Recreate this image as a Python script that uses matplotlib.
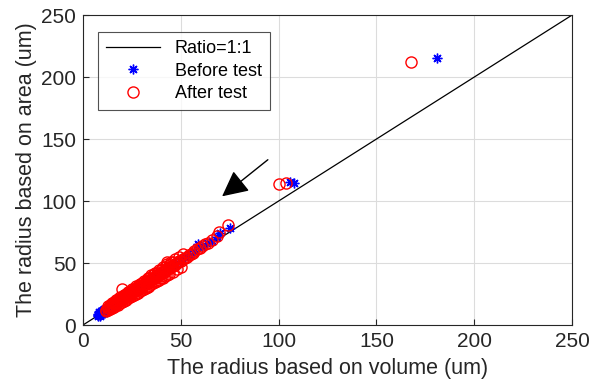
import matplotlib.pyplot as plt
from matplotlib.patches import FancyArrowPatch

plt.rcParams['font.family'] = ['Liberation Sans', 'DejaVu Sans']

# radius from volume (x) vs radius from projected area (y), in um
before_vol = [7.6, 7.9, 8.2, 8.5, 8.8, 9.0, 9.3, 9.6, 9.9, 10.2, 10.5, 10.8,
              11.1, 11.4, 11.8, 12.2, 12.6, 13.0,
              7.5, 8.0, 8.5, 9.0, 9.5, 10.0, 10.5, 11.0, 11.5, 12.0, 12.5,
              14.5, 16.0, 18.0, 20.5,
              23.0, 26.0, 29.0, 32.0, 35.0, 38.0, 41.0, 44.0, 47.0, 49.5,
              52.0, 54.5, 57.0, 59.0, 61.0, 63.5, 66.0, 68.5, 70.0, 75.0,
              106.0, 108.0, 181.0]
before_area = [7.5, 8.3, 8.6, 9.2, 9.4, 9.9, 10.1, 10.6, 10.8, 11.3, 11.4, 12.0,
               12.1, 12.6, 12.9, 13.4, 13.6, 14.2,
               9.0, 10.2, 7.6, 11.0, 8.5, 12.0, 9.6, 13.0, 10.5, 14.0, 11.2,
               15.6, 17.1, 19.2, 21.8,
               24.5, 27.6, 30.6, 33.8, 36.8, 39.9, 43.1, 46.0, 49.3, 51.5,
               54.5, 56.8, 59.4, 65.5, 62.8, 66.0, 68.0, 71.0, 74.0, 78.5,
               115.0, 114.5, 215.0]

after_vol = [12.0, 12.6, 13.2, 13.8, 14.4, 15.0, 15.6, 16.2, 16.8, 17.4,
             18.0, 18.6, 19.2, 19.8, 20.0, 20.4, 21.0, 21.6, 22.2, 22.8,
             23.4, 24.0, 24.6, 25.2, 25.8, 26.4, 27.0, 27.6, 28.2, 28.8,
             29.4, 30.0, 30.6, 31.2, 31.8, 32.4, 33.0, 33.6, 34.2, 34.8,
             35.4, 36.0, 36.6, 37.2, 37.8, 38.4, 39.0, 39.6, 40.2, 40.8,
             41.4, 42.0, 42.5, 43.0, 43.6, 44.2, 44.8, 45.4, 46.0, 46.8,
             47.6, 48.4, 49.2, 50.0, 51.0, 52.0, 53.0, 54.0, 55.0, 56.0,
             57.0, 58.5, 60.0, 61.0, 62.5, 64.0, 66.0, 68.5, 69.5, 74.0,
             # upper edge of the band
             13.0, 15.0, 17.0, 19.0, 21.0, 23.0, 25.0, 27.0, 29.0, 31.0,
             33.0, 35.0, 37.0, 39.0, 41.0, 43.0, 45.0, 47.0, 49.0, 51.0,
             14.0, 16.0, 18.0, 20.0, 22.0, 24.0, 26.0, 28.0, 30.0, 32.0,
             34.0, 36.0, 38.0, 40.0, 42.0, 44.0, 46.0,
             # lower edge of the band
             12.0, 14.0, 16.0, 18.0, 20.0, 22.0, 24.0, 26.0, 28.0, 30.0,
             32.0, 34.0, 36.0, 38.0, 40.0, 42.0, 44.0, 46.0, 48.0, 50.0,
             13.0, 15.0, 17.0, 19.0, 21.0, 23.0, 25.0, 27.0, 29.0, 31.0,
             33.0, 35.0, 37.0, 39.0, 41.0, 43.0,
             100.0, 104.0, 167.5]
after_area = [12.5, 13.8, 13.6, 15.0, 14.9, 16.2, 16.1, 17.5, 17.3, 18.8,
              18.6, 20.0, 19.8, 21.3, 29.0, 21.1, 22.6, 22.3, 23.9, 23.6,
              25.1, 24.8, 26.4, 26.0, 27.6, 27.3, 28.9, 28.6, 30.1, 29.8,
              31.4, 31.0, 32.6, 32.3, 33.9, 33.5, 35.1, 34.8, 36.4, 36.0,
              37.6, 37.3, 38.9, 38.5, 40.1, 39.8, 41.4, 41.0, 42.6, 42.3,
              43.9, 43.5, 45.0, 51.0, 45.3, 46.8, 46.5, 48.0, 47.9, 49.3,
              49.6, 50.8, 51.4, 52.0, 53.3, 54.2, 55.0, 56.4, 57.3, 58.4,
              59.6, 61.0, 62.5, 64.0, 65.6, 66.5, 68.5, 71.5, 75.0, 80.5,
              15.6, 18.1, 20.0, 22.5, 24.4, 26.9, 28.8, 31.3, 33.2, 35.7,
              37.6, 40.1, 42.0, 44.5, 46.4, 48.9, 50.8, 53.0, 54.9, 57.2,
              16.3, 18.4, 20.6, 22.8, 24.9, 27.1, 29.3, 31.4, 33.6, 35.8,
              37.9, 40.1, 42.3, 44.4, 46.6, 48.8, 50.9,
              11.0, 12.7, 14.8, 16.5, 18.6, 20.3, 22.4, 24.1, 26.2, 27.9,
              30.0, 31.7, 33.8, 35.5, 37.6, 39.3, 41.4, 43.1, 45.2, 47.0,
              12.2, 14.1, 15.9, 17.8, 19.7, 21.5, 23.4, 25.3, 27.1, 29.0,
              30.9, 32.7, 34.6, 36.5, 38.3, 40.2,
              113.5, 114.5, 212.0]

ratio_x = [0, 250]
ratio_y = [0, 250]

fig, ax = plt.subplots(figsize=(5.91, 3.86), dpi=100)
fig.subplots_adjust(left=0.1404, right=0.968, bottom=0.158, top=0.961)

ax.plot(ratio_x, ratio_y, color='black', lw=0.9, label='Ratio=1:1')
ax.plot(before_vol, before_area, ls='none', marker=(8, 2, 0), ms=7,
        mec='blue', mew=1.0, label='Before test')
ax.plot(after_vol, after_area, ls='none', marker='o', ms=8, mfc='none',
        mec='red', mew=1.0, label='After test')

ax.add_patch(FancyArrowPatch((95.6, 134.7), (70.0, 102.4),
                             arrowstyle='-|>,head_length=10,head_width=5',
                             color='black', lw=1.0, mutation_scale=1.6))

ax.set_xlim(0, 250)
ax.set_ylim(0, 250)
ax.set_xticks(range(0, 251, 50))
ax.set_yticks(range(0, 251, 50))
ax.grid(True, color='#dcdcdc', lw=0.8)
ax.set_axisbelow(True)
ax.tick_params(direction='in', length=4, labelsize=15, colors='#262626',
               top=False, right=False, pad=5)
for s in ax.spines.values():
    s.set_color('#262626')
    s.set_linewidth(0.8)

ax.set_xlabel('The radius based on volume (um)', fontsize=15.5, color='#262626', labelpad=5)
ax.set_ylabel('The radius based on area (um)', fontsize=15.5, color='#262626', labelpad=3)

leg = ax.legend(loc='upper left', bbox_to_anchor=(0.031, 0.945), borderaxespad=0,
                fontsize=13, frameon=True, fancybox=False, edgecolor='#262626',
                handlelength=3.0, borderpad=0.45, labelspacing=0.3)
leg.get_frame().set_linewidth(0.8)

fig.savefig('out.png', dpi=100)
